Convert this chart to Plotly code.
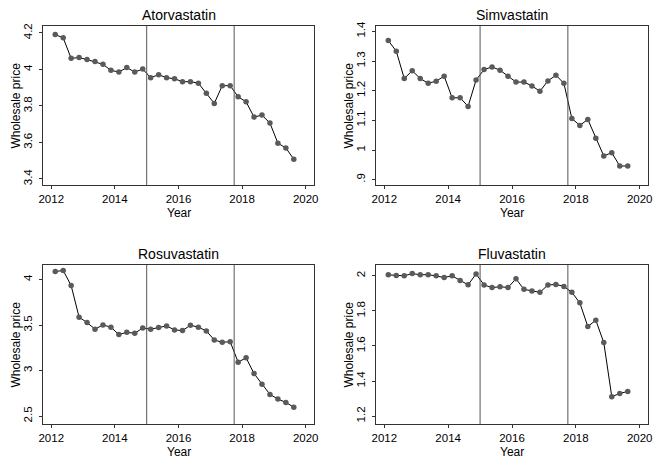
import plotly.graph_objects as go

years = [2012.125 + 0.25 * i for i in range(31)]

drugs = ["Atorvastatin", "Simvastatin", "Rosuvastatin", "Fluvastatin"]

atorvastatin = [4.191, 4.173, 4.061, 4.065, 4.054, 4.043, 4.028, 3.995, 3.986, 4.010,
                3.986, 4.002, 3.955, 3.971, 3.955, 3.949, 3.933, 3.933, 3.925, 3.869,
                3.814, 3.911, 3.911, 3.850, 3.823, 3.739, 3.750, 3.706, 3.596, 3.570, 3.508]
simvastatin = [1.369, 1.333, 1.241, 1.267, 1.241, 1.225, 1.232, 1.249, 1.176, 1.176,
               1.147, 1.236, 1.271, 1.280, 1.269, 1.249, 1.229, 1.229, 1.216, 1.198,
               1.233, 1.252, 1.225, 1.106, 1.083, 1.103, 1.040, 0.980, 0.991, 0.946, 0.946]
rosuvastatin = [4.088, 4.100, 3.934, 3.587, 3.528, 3.455, 3.502, 3.477, 3.396, 3.421,
                3.410, 3.469, 3.455, 3.473, 3.491, 3.447, 3.440, 3.499, 3.477, 3.436,
                3.337, 3.311, 3.318, 3.093, 3.141, 2.968, 2.850, 2.739, 2.688, 2.651, 2.599]
fluvastatin = [2.006, 2.002, 2.000, 2.013, 2.006, 2.007, 2.000, 1.991, 2.000, 1.974,
               1.949, 2.011, 1.948, 1.933, 1.938, 1.934, 1.983, 1.923, 1.914, 1.906,
               1.948, 1.951, 1.940, 1.906, 1.846, 1.711, 1.747, 1.620, 1.311, 1.329, 1.341]
series = [atorvastatin, simvastatin, rosuvastatin, fluvastatin]

policy_dates = [2015.0, 2017.75]

x_ticks = [2012, 2014, 2016, 2018, 2020]
y_ticks = [
    [3.4, 3.6, 3.8, 4.0, 4.2],
    [0.9, 1.0, 1.1, 1.2, 1.3, 1.4],
    [2.5, 3.0, 3.5, 4.0],
    [1.2, 1.4, 1.6, 1.8, 2.0],
]
y_tick_text = [
    ["3.4", "3.6", "3.8", "4", "4.2"],
    [".9", "1", "1.1", "1.2", "1.3", "1.4"],
    ["2.5", "3", "3.5", "4"],
    ["1.2", "1.4", "1.6", "1.8", "2"],
]
y_ranges = [
    [3.367, 4.238],
    [0.882, 1.418],
    [2.414, 4.16],
    [1.155, 2.062],
]

W, H = 655, 460
x_doms = [[43 / W, 314 / W], [376 / W, 648 / W]]
y_doms = [[1 - 185 / H, 1 - 26 / H], [1 - 424 / H, 1 - 265 / H]]

FONT = "Liberation Sans, Arial, Helvetica, sans-serif"
TICK = 11.5
fig = go.Figure()
layout = dict(
    width=W, height=H, autosize=False,
    margin=dict(l=0, r=0, t=0, b=0, pad=0, autoexpand=False),
    paper_bgcolor="white", plot_bgcolor="white",
    showlegend=False,
    font=dict(family=FONT, size=12, color="black"),
)
annotations = []
shapes = []
for i, (name, vals) in enumerate(zip(drugs, series)):
    r, c = divmod(i, 2)
    ax = "" if i == 0 else str(i + 1)
    fig.add_trace(go.Scatter(
        x=years, y=vals, mode="lines+markers",
        line=dict(color="black", width=1),
        marker=dict(color="#5a5a5a", size=5.5),
        xaxis="x" + ax, yaxis="y" + ax,
        cliponaxis=False,
    ))
    layout["xaxis" + ax] = dict(
        domain=x_doms[c], anchor="y" + ax, range=[2011.74, 2020.26],
        tickvals=x_ticks, ticks="outside", ticklen=3, tickcolor="#333",
        showgrid=False, zeroline=False, showline=True, mirror=True,
        linecolor="#333", linewidth=1.2, automargin=False,
        tickfont=dict(size=TICK),
    )
    layout["yaxis" + ax] = dict(
        domain=y_doms[r], anchor="x" + ax, range=y_ranges[i],
        tickvals=y_ticks[i], ticktext=y_tick_text[i], tickangle=-90,
        ticks="outside", ticklen=3, tickcolor="#333", ticklabelstandoff=2,
        showgrid=False, zeroline=False, showline=True, mirror=True,
        linecolor="#333", linewidth=1.2, automargin=False,
        tickfont=dict(size=TICK),
    )
    for d in policy_dates:
        shapes.append(dict(type="line", xref="x" + ax, yref="y" + ax + " domain",
                           x0=d, x1=d, y0=0, y1=1,
                           line=dict(color="#555", width=1)))
    xc = (x_doms[c][0] + x_doms[c][1]) / 2
    yc = (y_doms[r][0] + y_doms[r][1]) / 2
    annotations.append(dict(
        text=name, xref="paper", yref="paper",
        x=xc, y=y_doms[r][1],
        yanchor="bottom", xanchor="center", showarrow=False, yshift=1,
        font=dict(size=14, family=FONT, color="black"),
    ))
    if r == 0:
        year_pos = dict(y=y_doms[r][0], yanchor="middle", yshift=-28)
    else:
        year_pos = dict(y=0, yanchor="bottom", yshift=0)
    annotations.append(dict(
        text="Year", xref="paper", yref="paper",
        x=xc, xanchor="center", showarrow=False, borderpad=0,
        font=dict(size=12, family=FONT, color="black"),
        **year_pos,
    ))
    annotations.append(dict(
        text="Wholesale price", xref="paper", yref="paper",
        x=x_doms[c][0], y=yc, yanchor="middle", xanchor="center",
        showarrow=False, xshift=-28, textangle=-90,
        font=dict(size=12, family=FONT, color="black"),
    ))
layout["annotations"] = annotations
layout["shapes"] = shapes
fig.update_layout(**layout)
fig.write_html("out.html", config={"displayModeBar": False},
               post_script="document.body.style.margin='0';")
